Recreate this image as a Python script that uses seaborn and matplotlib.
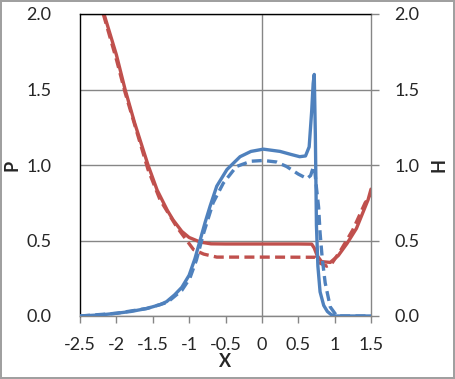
import matplotlib
matplotlib.use("Agg")
import matplotlib.pyplot as plt
import numpy as np
import pandas as pd
import seaborn as sns

# values
h_solid_x = [-2.5, -2.2, -2.0, -1.8, -1.58, -1.4, -1.31, -1.2, -1.1, -1.0, -0.92, -0.85, -0.78,
             -0.71, -0.62, -0.48, -0.3, -0.15, 0.02, 0.25, 0.4, 0.52, 0.6, 0.65, 0.685, 0.705,
             0.72, 0.735, 0.75, 0.77, 0.8, 0.85, 0.9, 0.95, 1.0, 1.5]
h_solid_y = [0.0, 0.008, 0.018, 0.03, 0.05, 0.075, 0.095, 0.14, 0.19, 0.27, 0.38, 0.5, 0.62,
             0.73, 0.86, 0.97, 1.055, 1.09, 1.105, 1.09, 1.07, 1.055, 1.06, 1.12, 1.36, 1.54,
             1.6, 1.2, 0.6, 0.33, 0.16, 0.07, 0.03, 0.01, 0.0, 0.0]

h_dash_x = [-2.5, -2.0, -1.58, -1.3, -1.1, -0.99, -0.9, -0.8, -0.67, -0.53, -0.35, -0.15, 0.02,
            0.2, 0.34, 0.5, 0.62, 0.67, 0.71, 0.73, 0.75, 0.78, 0.8, 0.83, 0.87, 0.94, 1.03, 1.5]
h_dash_y = [0.0, 0.018, 0.05, 0.09, 0.17, 0.25, 0.37, 0.55, 0.75, 0.88, 0.99, 1.025, 1.03,
            1.02, 0.99, 0.94, 0.91, 0.93, 0.99, 0.95, 0.85, 0.72, 0.55, 0.38, 0.22, 0.06, 0.0, 0.0]

p_solid_x = [-2.17, -2.0, -1.88, -1.75, -1.565, -1.44, -1.3, -1.22, -1.1, -1.0, -0.85, -0.7,
             -0.5, 0.0, 0.5, 0.685, 0.72, 0.76, 0.82, 0.94, 1.05, 1.17, 1.3, 1.46, 1.5]
p_solid_y = [2.0, 1.73, 1.5, 1.28, 1.0, 0.834, 0.7, 0.636, 0.56, 0.52, 0.49, 0.478,
             0.477, 0.477, 0.477, 0.476, 0.45, 0.4, 0.36, 0.355, 0.4, 0.48, 0.58, 0.77, 0.84]

p_dash_x = [-2.18, -2.0, -1.88, -1.565, -1.4, -1.17, -0.94, -0.8, -0.62, 0.0, 0.73, 0.8, 0.89,
            0.95, 1.09, 1.25, 1.42, 1.5]
p_dash_y = [2.0, 1.7, 1.48, 0.97, 0.77, 0.59, 0.44, 0.41, 0.39, 0.39, 0.389, 0.35, 0.33,
            0.34, 0.44, 0.57, 0.75, 0.8]

x_ticks = [-2.5, -2, -1.5, -1, -0.5, 0, 0.5, 1, 1.5]
x_labels = ["-2.5", "-2", "-1.5", "-1", "-0.5", "0", "0.5", "1", "1.5"]
y_ticks = [0.0, 0.5, 1.0, 1.5, 2.0]
y_labels = ["0.0", "0.5", "1.0", "1.5", "2.0"]

blue = "#4F81BD"
red = "#C0504D"
grey = "#868686"

sns.set_style("white")
plt.rcParams["font.family"] = ["Lato", "DejaVu Sans"]

fig = plt.figure(figsize=(4.55, 3.79), dpi=100)
fig.patch.set_edgecolor("#A0A0A0")
fig.patch.set_linewidth(1.5)
ax = fig.add_axes([80 / 455, 63 / 379, 291 / 455, 302 / 379])
ax2 = ax.twinx()

sns.lineplot(x=p_solid_x, y=p_solid_y, ax=ax, color=red, lw=2.4, sort=False)
sns.lineplot(x=p_dash_x, y=p_dash_y, ax=ax, color=red, lw=2.4, sort=False)
ax.lines[-1].set_linestyle((0, (3, 1.6)))
sns.lineplot(x=h_solid_x, y=h_solid_y, ax=ax2, color=blue, lw=2.4, sort=False)
sns.lineplot(x=h_dash_x, y=h_dash_y, ax=ax2, color=blue, lw=2.4, sort=False)
ax2.lines[-1].set_linestyle((0, (3, 1.6)))

for a in (ax, ax2):
    a.set_xlim(-2.5, 1.5)
    a.set_ylim(0, 2)

ax.axvline(0, color=grey, lw=1, zorder=0)
ax.set_yticks(y_ticks)
ax.set_yticklabels(y_labels)
ax.set_xticks(x_ticks)
ax.set_xticklabels(x_labels)
ax.yaxis.grid(True, color=grey, lw=1)
ax.set_axisbelow(True)
ax.tick_params(axis="y", left=False, pad=17, labelsize=13)
ax.tick_params(axis="x", bottom=True, direction="out", length=5, width=1, color=grey,
               pad=10, labelsize=13)

ax2.set_yticks(y_ticks)
ax2.set_yticklabels(y_labels)
ax2.tick_params(axis="y", right=True, direction="out", length=6, width=1, color=grey,
                pad=11, labelsize=13)

ax.spines["top"].set_color("black")
ax.spines["left"].set_color("black")
ax.spines["bottom"].set_color(grey)
ax.spines["right"].set_color(grey)
for s in ax.spines.values():
    s.set_linewidth(1)
for s in ax2.spines.values():
    s.set_visible(False)

ax.set_xlabel("X", fontweight="bold", fontsize=13, labelpad=0)
ax.set_ylabel("P", fontweight="bold", fontsize=13, labelpad=4)
ax2.set_ylabel("H", fontweight="bold", fontsize=13, labelpad=8, rotation=90)

fig.savefig("out.png", dpi=100)
